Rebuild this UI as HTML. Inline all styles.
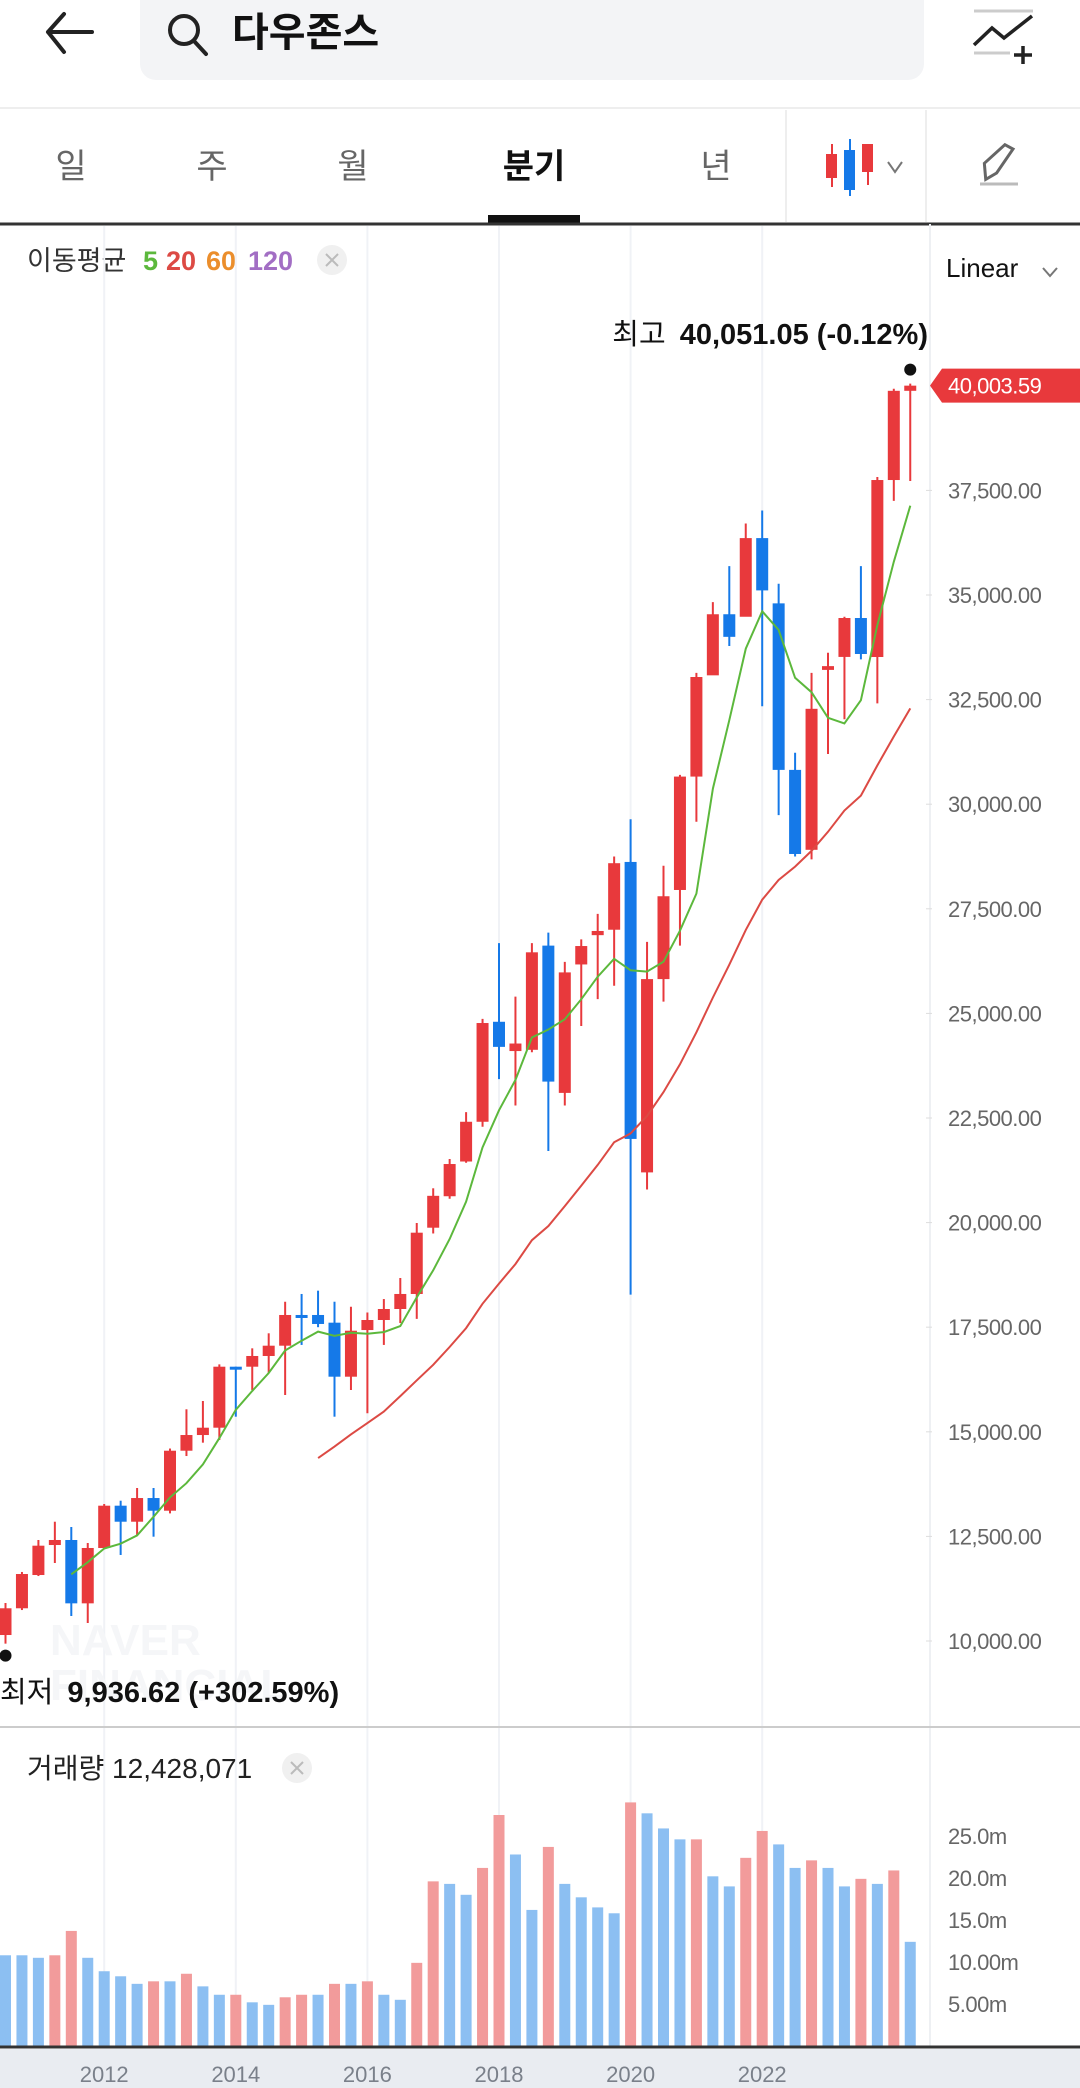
<!DOCTYPE html>
<html><head><meta charset="utf-8">
<style>
body{margin:0;width:1080px;height:2088px;background:#fff;overflow:hidden;font-family:"Liberation Sans","Noto Sans CJK KR",sans-serif;}
svg{position:absolute;left:0;top:0}
text{font-family:"Liberation Sans","Noto Sans CJK KR",sans-serif}
</style></head>
<body>
<svg id="chart" width="1080" height="2088" viewBox="0 0 1080 2088">
  <g>
    <path d="M48 32 H92 M48 32 L64 14 M48 32 L64 52" stroke="#222" stroke-width="4" fill="none" stroke-linecap="round"/>
  </g>
  <rect x="140" y="-20" width="784" height="100" rx="16" fill="#f3f4f6"/>
  <g>
    <circle cx="184" cy="30" r="14" stroke="#222" stroke-width="4" fill="none"/>
    <line x1="194" y1="41" x2="206" y2="54" stroke="#222" stroke-width="4" stroke-linecap="round"/>
  </g>
  <text x="232" y="46" font-size="40" font-weight="bold" fill="#111">다우존스</text>
  <g>
    <line x1="974" y1="11" x2="1033" y2="11" stroke="#ccc" stroke-width="3"/>
    <line x1="974" y1="53" x2="1010" y2="53" stroke="#ccc" stroke-width="3"/>
    <path d="M974 45 L992 28 L1004 38 L1032 16" stroke="#222" stroke-width="3.5" fill="none"/>
    <path d="M1023 46 V64 M1014 55 H1032" stroke="#222" stroke-width="3.5"/>
  </g>
  <line x1="0" y1="108" x2="1080" y2="108" stroke="#eee" stroke-width="2"/>
  <g font-size="34" text-anchor="middle" fill="#666">
    <text x="71" y="178">일</text>
    <text x="212" y="178">주</text>
    <text x="353" y="178">월</text>
    <text x="534" y="178" fill="#111" font-weight="bold">분기</text>
    <text x="716" y="178">년</text>
  </g>
  <rect x="488" y="215" width="92" height="8" fill="#111"/>
  <line x1="786" y1="110" x2="786" y2="222" stroke="#eee" stroke-width="2"/>
  <line x1="926" y1="110" x2="926" y2="222" stroke="#eee" stroke-width="2"/>
  <g>
    <line x1="832" y1="144" x2="832" y2="187" stroke="#e8393c" stroke-width="2"/>
    <rect x="826" y="154" width="11" height="24" fill="#e8393c"/>
    <line x1="850" y1="139" x2="850" y2="196" stroke="#1579e8" stroke-width="2"/>
    <rect x="844" y="150" width="11" height="40" fill="#1579e8"/>
    <line x1="868" y1="144" x2="868" y2="185" stroke="#e8393c" stroke-width="2"/>
    <rect x="862" y="144" width="11" height="28" fill="#e8393c"/>
    <path d="M888 162 L895 172 L902 162" stroke="#777" stroke-width="2" fill="none"/>
  </g>
  <g>
    <path d="M982 176 L984 160 L1008 146 L1015 152 L994 172 Z" stroke="#666" stroke-width="3" fill="none" transform="rotate(-12 1000 160)"/>
    <line x1="980" y1="184" x2="1018" y2="184" stroke="#bbb" stroke-width="3"/>
  </g>
  <line x1="0" y1="224" x2="1080" y2="224" stroke="#333" stroke-width="3"/>
  <g font-size="27">
    <text x="27" y="270" fill="#333">이동평균</text>
    <text x="143" y="270" fill="#5cb83c" font-weight="bold">5</text>
    <text x="166" y="270" fill="#dc4a44" font-weight="bold">20</text>
    <text x="206" y="270" fill="#eb8e2c" font-weight="bold">60</text>
    <text x="248" y="270" fill="#a26ec4" font-weight="bold">120</text>
  </g>
  <g>
    <circle cx="332" cy="260" r="15" fill="#f0f0f0"/>
    <path d="M326 254 L338 266 M338 254 L326 266" stroke="#bbb" stroke-width="2"/>
  </g>
  <text x="946" y="277" font-size="26" fill="#111">Linear</text>
  <path d="M1043 268 L1050 276 L1057 268" stroke="#777" stroke-width="2" fill="none"/>

  <g id="grid"></g>
  <text x="50" y="1655" font-size="44" font-weight="bold" fill="#f5f6f8">NAVER</text>
  <text x="50" y="1700" font-size="44" font-weight="bold" fill="#f5f6f8">FINANCIAL</text>
  <line x1="930" y1="224" x2="930" y2="1726" stroke="#eef0f3" stroke-width="2"/>
  <g id="priceAxis"></g>
  <g id="candles"></g>
  <g id="mas"></g>
  <g id="annot"></g>

  <line x1="0" y1="1727" x2="1080" y2="1727" stroke="#ccc" stroke-width="2"/>
  <text x="27" y="1778" font-size="28" fill="#222">거래량 12,428,071</text>
  <g>
    <circle cx="297" cy="1768" r="15" fill="#f0f0f0"/>
    <path d="M291 1762 L303 1774 M303 1762 L291 1774" stroke="#bbb" stroke-width="2"/>
  </g>
  <line x1="930" y1="1728" x2="930" y2="2046" stroke="#eef0f3" stroke-width="2"/>
  <g id="volAxis"></g>
  <g id="vols"></g>
  <rect x="0" y="2049" width="1080" height="39" fill="#e9ecf1"/>
  <line x1="0" y1="2047" x2="1080" y2="2047" stroke="#333" stroke-width="3"/>
  <g id="xAxis"></g>
</svg>
<script>
const opens  = [10143,10782,11577,12294,12414,10900,12223,13234,12851,13417,13114,14548,14923,15098,16556,16556,16812,17058,17792,17792,17608,16317,17432,17672,17935,18294,19878,20630,21460,22410,24800,24100,24130,26620,23100,26170,26870,27000,28620,21200,25820,27950,30660,33080,34540,34480,36360,34800,30820,28910,33210,33520,34450,33518,37748,39880];
const highs  = [10908,11650,12414,12851,12725,12343,13274,13353,13657,13657,14600,15538,15736,16612,16556,16995,17354,18109,18294,18373,18109,17990,17850,18173,18676,19990,20820,21520,22640,24870,26680,25400,26680,26930,26230,26770,27380,28750,29640,26710,28530,30700,33140,34830,35690,36710,37020,35270,31230,33140,33620,34480,35690,37820,39930,40051.05];
const lows   = [9936.62,10740,11553,11864,10598,10430,12200,12056,12533,12493,13050,14421,14740,14804,15361,15999,16406,15880,17076,17500,15361,15999,15442,17076,17600,17700,19740,20570,21430,22290,23430,22800,24070,21710,22800,24700,25340,25660,18280,20790,25280,26620,29580,33110,33780,34500,32340,29740,28750,28680,31200,32030,33460,32410,37250,37725];
const closes = [10782,11601,12278,12414,10900,12223,13234,12851,13417,13114,14548,14923,15098,16556,16500,16812,17058,17792,17730,17577,16317,17416,17672,17935,18294,19759,20640,21400,22410,24770,24200,24280,26460,23370,25980,26610,26970,28590,22000,25820,27800,30660,33040,34540,34000,36360,35110,30820,28810,32280,33300,34450,33590,37748,39880,40003.59];
const volumes = [10.8,10.8,10.5,10.8,13.7,10.5,8.9,8.3,7.4,7.7,7.7,8.6,7.1,6.1,6.1,5.2,4.9,5.8,6.1,6.1,7.4,7.4,7.7,6.1,5.5,9.9,19.6,19.3,18.0,21.2,27.5,22.8,16.2,23.7,19.3,17.7,16.5,15.8,29.0,27.7,25.9,24.6,24.6,20.2,19.0,22.4,25.6,24.0,21.2,22.1,21.2,19.0,19.9,19.3,20.9,12.4];
const volUp = [0,0,0,1,1,0,0,0,0,1,0,1,0,0,1,0,0,1,1,0,1,0,1,0,0,1,1,0,0,1,1,0,0,1,0,0,0,0,1,0,0,0,1,0,0,1,1,0,0,1,0,0,1,0,1,0];
const priceTicks = [10000,12500,15000,17500,20000,22500,25000,27500,30000,32500,35000,37500];
const volTicks = [5,10,15,20,25];
const volTickLabels = ["5.00m","10.00m","15.0m","20.0m","25.0m"];
const yearLabels = ["2012","2014","2016","2018","2020","2022"];
const yearIndex = [6,14,22,30,38,46];
const maPeriods = [5,20];
const maColors = ["#5cb83c","#dc4a44"];

const NS="http://www.w3.org/2000/svg";
const X0=5.5, DX=16.45;
function xAt(i){return X0+i*DX;}
function yP(v){return 1641-(v-10000)*104.6/2500;}
function yV(m){return 2046-m*8.4;}
function mk(tag,attrs,parent){const e=document.createElementNS(NS,tag);for(const k in attrs)e.setAttribute(k,attrs[k]);parent.appendChild(e);return e;}
function fmt(v){return v.toLocaleString('en-US',{minimumFractionDigits:2,maximumFractionDigits:2});}
const RED="#e8393c", BLUE="#1579e8";

const grid=document.getElementById('grid');
yearIndex.forEach((yi,k)=>{
  const l=mk('line',{x1:xAt(yi),x2:xAt(yi),y1:226,y2:2046,stroke:'#f0f2f6','stroke-width':2},grid);
  
  
});

const pa=document.getElementById('priceAxis');
priceTicks.forEach(v=>{
  const t=mk('text',{x:948,y:yP(v)+8,'font-size':22,fill:'#666','letter-spacing':'-0.5'},pa);
  t.textContent=fmt(v);
  
  
  mk('line',{x1:926,x2:932,y1:yP(v),y2:yP(v),stroke:'#ddd','stroke-width':1},pa);
});

const cg=document.getElementById('candles');
closes.forEach((c,i)=>{
  const o=opens[i], up=c>=o, col=up?RED:BLUE, x=xAt(i);
  const g=mk('g',{},cg);
  
  
  mk('line',{x1:x,x2:x,y1:yP(highs[i]),y2:yP(lows[i]),stroke:col,'stroke-width':2},g);
  const top=yP(Math.max(o,c)), h=Math.max(3,yP(Math.min(o,c))-top);
  mk('rect',{x:x-6,y:top,width:12,height:h,fill:col},g);
});

const mg=document.getElementById('mas');
maPeriods.forEach((p,k)=>{
  let pts=[];
  for(let i=p-1;i<closes.length;i++){
    let s=0;for(let j=i-p+1;j<=i;j++)s+=closes[j];
    pts.push(xAt(i).toFixed(1)+','+yP(s/p).toFixed(1));
  }
  const pl=mk('polyline',{points:pts.join(' '),fill:'none',stroke:maColors[k],'stroke-width':2},mg);
  
  
});

const an=document.getElementById('annot');
let hiI=0,loI=0;
highs.forEach((h,i)=>{if(h>highs[hiI])hiI=i;});
lows.forEach((l,i)=>{if(l<lows[loI])loI=i;});
mk('circle',{cx:xAt(hiI),cy:yP(highs[hiI])-14,r:6,fill:'#111'},an);
const ht=mk('text',{x:928,y:344,'font-size':29,fill:'#111','text-anchor':'end'},an);
ht.innerHTML='최고 <tspan font-weight="bold" dx="6">'+fmt(highs[hiI])+' (-0.12%)</tspan>';


mk('circle',{cx:xAt(loI),cy:yP(lows[loI])+12,r:6,fill:'#111'},an);
const lt=mk('text',{x:0,y:1702,'font-size':29,fill:'#111'},an);
lt.innerHTML='최저 <tspan font-weight="bold" dx="6">'+fmt(lows[loI])+' (+302.59%)</tspan>';


const last=closes[closes.length-1], ly=yP(last);
const tag=mk('g',{},an);


mk('path',{d:`M930 ${ly} L942 ${ly-17} H1080 V${ly+17} H942 Z`,fill:'#e8393c'},tag);
const tt=mk('text',{x:948,y:ly+8,'font-size':22,fill:'#fff','letter-spacing':'-0.5'},tag);
tt.textContent=fmt(last);

const va=document.getElementById('volAxis');
volTicks.forEach((v,k)=>{
  const t=mk('text',{x:948,y:yV(v)+8,'font-size':22,fill:'#666','letter-spacing':'-0.5'},va);
  t.textContent=volTickLabels[k];
  
  
});
const vg=document.getElementById('vols');
volumes.forEach((v,i)=>{
  const r=mk('rect',{x:xAt(i)-5.5,y:yV(v),width:11,height:2046-yV(v),fill:volUp[i]?'#f29b9b':'#8cbff2'},vg);
  
  
});

const xa=document.getElementById('xAxis');
yearLabels.forEach((y,k)=>{
  const t=mk('text',{x:xAt(yearIndex[k]),y:2082,'font-size':22,fill:'#7a808a','text-anchor':'middle'},xa);
  t.textContent=y;
  
  
});
</script>
</body></html>
